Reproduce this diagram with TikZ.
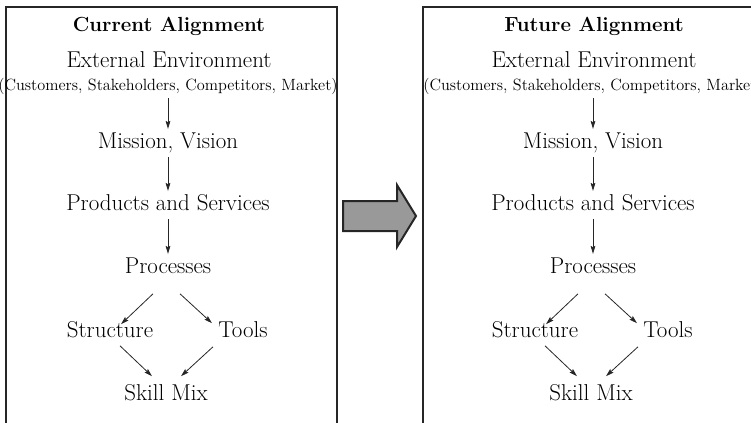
\documentclass[tikz,border=0pt]{standalone}
\usetikzlibrary{arrows.meta,calc}

\begin{document}
\begin{tikzpicture}[x=0.75pt, y=-0.75pt,
    head/.style={inner sep=0, font=\fontsize{15.3}{18}\selectfont\bfseries, text height=10.7pt, text depth=3.3pt},
    main/.style={inner sep=0, font=\fontsize{17.2}{20}\selectfont, text height=12pt, text depth=3.8pt},
    sub/.style={inner sep=0, font=\fontsize{12.2}{14}\selectfont, text height=8.5pt, text depth=2.7pt},
    link/.style={-{Stealth[length=6pt,width=3.6pt,inset=1pt]}, line width=0.6pt, black!85},
    frame/.style={line width=1.5pt, black!85, line join=miter}]
    \useasboundingbox (0,0) rectangle (751,422);
    \clip (0,0) rectangle (751,422);
    %
    \draw[frame] (6,430) -- (6,7) -- (337,7) -- (337,430);
    \draw[frame] (423,430) -- (423,7) -- (760,7) -- (760,430);
    \draw[frame, fill=black!40] (343,201) -- (397,201) -- (397,185) -- (416,216)
        -- (397,247) -- (397,231) -- (343,231) -- cycle;
    %
    \foreach \p/\title/\dx in {c/Current/0, f/Future/425} {
    \draw
    (169+\dx,27)node(\p-title)[head]{\title\ Alignment}
    (169+\dx,62)node(\p-ext)[main]{External Environment}
    (168+\dx,87)node(\p-sub)[sub]{(Customers, Stakeholders, Competitors, Market)}
    (168+\dx,143)node(\p-mis)[main]{Mission, Vision}
    (168+\dx,205)node(\p-prod)[main]{Products and Services}
    (168+\dx,268)node(\p-proc)[main]{Processes}
    (110+\dx,332)node(\p-struct)[main]{Structure}
    (243+\dx,332)node(\p-tools)[main]{Tools}
    (166+\dx,395)node(\p-skill)[main]{Skill Mix};
    %
    \draw[link, shorten <=2.5pt, shorten >=2.5pt] (\p-sub)--(\p-mis);
    \draw[link, shorten <=2.5pt, shorten >=2.5pt] (\p-mis)--(\p-prod);
    \draw[link, shorten <=2.5pt, shorten >=2.5pt] (\p-prod)--(\p-proc);
    \draw[link] ($(\p-proc.south)+(-15,15)$)--($(\p-struct.north)+(11,3)$);
    \draw[link] ($(\p-proc.south)+(12,15)$)--($(\p-tools.north)+(-31,2)$);
    \draw[link] ($(\p-struct.south)+(10,3)$)--($(\p-skill.north)+(-14,-8)$);
    \draw[link] ($(\p-tools.south)+(-30,4)$)--($(\p-skill.north)+(15,-8)$);
    }
\end{tikzpicture}
\end{document}
